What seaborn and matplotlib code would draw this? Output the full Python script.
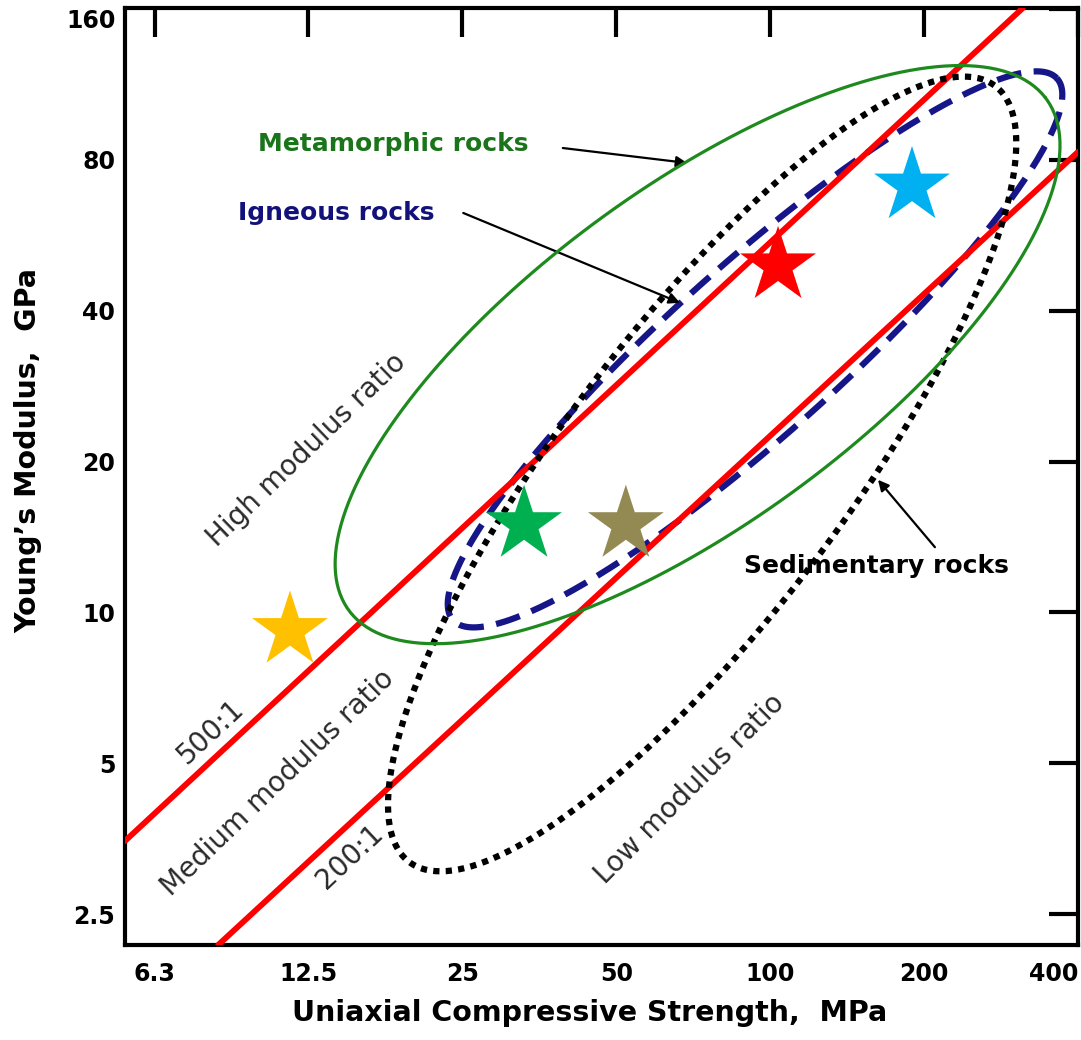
import numpy as np
import pandas as pd
import matplotlib
matplotlib.use("Agg")
import matplotlib.pyplot as plt
from matplotlib.ticker import NullLocator
import seaborn as sns

# ---------------- data ----------------
x_ticks = [6.25, 12.5, 25, 50, 100, 200, 400]
x_tick_labels = ["6.3", "12.5", "25", "50", "100", "200", "400"]
y_ticks = [2.5, 5, 10, 20, 40, 80, 160]
y_tick_labels = ["2.5", "5", "10", "20", "40", "80", "160"]

# modulus-ratio boundary lines (UCS in MPa, E in GPa)
line500_ucs = [5.47, 312.0]
line500_E = [3.50, 160.8]
line200_ucs = [8.32, 400.0]
line200_E = [2.17, 83.0]

# rock-group envelopes: centre (UCS, E), half-axes in octaves, tilt (deg)
meta_center = [72.1, 32.7]
meta_axes = [2.83, 1.10]
meta_angle = 37.0
igneous_center = [93.4, 33.5]
igneous_axes = [2.66, 0.555]
igneous_angle = 42.5
sed_center = [73.6, 18.9]
sed_axes = [3.20, 0.93]
sed_angle = 53.6

# sample stars
star_ucs = [11.5, 33.0, 52.2, 103.6, 189.4]
star_E = [9.21, 14.98, 14.98, 49.2, 71.0]
star_colors = ["#FFC000", "#00B050", "#938953", "#FF0000", "#00B0F0"]

# ---------------- figure ----------------
sns.set_theme(style="white")
plt.rcParams["font.family"] = ["DejaVu Sans"]

fig = plt.figure(figsize=(10.81, 10.40), dpi=100)
ax = fig.add_axes([125 / 1081, 95 / 1040, 953 / 1081, 937 / 1040])
ax.set_xscale("log", base=2)
ax.set_yscale("log", base=2)
ax.set_xlim(5.47, 400)
ax.set_ylim(2.17, 160.8)


def envelope(center, axes_, angle):
    t = np.linspace(0, 2 * np.pi, 400)
    th = np.deg2rad(angle)
    a, b = axes_
    du = a * np.cos(t) * np.cos(th) - b * np.sin(t) * np.sin(th)
    dv = a * np.cos(t) * np.sin(th) + b * np.sin(t) * np.cos(th)
    return pd.DataFrame({"ucs": center[0] * 2 ** du, "E": center[1] * 2 ** dv})


# igneous (navy dashed)
ig = envelope(igneous_center, igneous_axes, igneous_angle)
sns.lineplot(data=ig, x="ucs", y="E", sort=False, estimator=None, ax=ax,
             color="#161688", lw=4.5, zorder=2)
ax.lines[-1].set_dashes([4, 2])

# red ratio lines
sns.lineplot(x=line500_ucs, y=line500_E, ax=ax, color="#FF0000", lw=4.2, zorder=3)
sns.lineplot(x=line200_ucs, y=line200_E, ax=ax, color="#FF0000", lw=4.2, zorder=3)

# sedimentary (black dotted)
sd = envelope(sed_center, sed_axes, sed_angle)
sns.lineplot(data=sd, x="ucs", y="E", sort=False, estimator=None, ax=ax,
             color="black", lw=4.5, zorder=4)
ax.lines[-1].set_dashes([1, 1])
ax.lines[-1].set_dash_capstyle("butt")

# metamorphic (green solid)
mt = envelope(meta_center, meta_axes, meta_angle)
sns.lineplot(data=mt, x="ucs", y="E", sort=False, estimator=None, ax=ax,
             color="#1E8A1E", lw=2.3, zorder=5)

# stars
sns.scatterplot(x=star_ucs, y=star_E, hue=list(range(len(star_ucs))),
                palette=star_colors, marker="*", s=3300, linewidth=0,
                legend=False, ax=ax, zorder=6)

# ---------------- texts ----------------
ax.text(9.96, 86.1, "Metamorphic rocks", color="#1A741A", fontsize=18,
        fontweight="bold", ha="left", va="center")
ax.text(9.10, 62.7, "Igneous rocks", color="#12127A", fontsize=18,
        fontweight="bold", ha="left", va="center")
ax.text(88.9, 12.4, "Sedimentary rocks", color="black", fontsize=18,
        fontweight="bold", ha="left", va="center", zorder=7)

arrow_kw = dict(arrowstyle="-|>", color="black", lw=1.6, mutation_scale=16,
                shrinkA=0, shrinkB=0)
ax.annotate("", xy=(68.8, 78.9), xytext=(39.3, 84.5), arrowprops=arrow_kw)
ax.annotate("", xy=(66.6, 41.5), xytext=(25.1, 62.7), arrowprops=arrow_kw)
ax.annotate("", xy=(162.5, 18.4), xytext=(210.0, 13.5), arrowprops=arrow_kw)

gray = "#2a2a2a"
rot_kw = dict(ha="center", va="center", rotation_mode="anchor", color=gray,
              fontsize=20)
ax.text(12.4, 21.1, "High modulus ratio", rotation=44, **rot_kw)
ax.text(8.06, 5.79, "500:1", rotation=43, **rot_kw)
ax.text(10.9, 4.58, "Medium modulus ratio", rotation=44, **rot_kw)
ax.text(15.07, 3.25, "200:1", rotation=43, **rot_kw)
ax.text(69.7, 4.44, "Low modulus ratio", rotation=45, **rot_kw)

# ---------------- axes styling ----------------
ax.xaxis.set_minor_locator(NullLocator())
ax.yaxis.set_minor_locator(NullLocator())
ax.set_xticks(x_ticks, x_tick_labels)
ax.set_yticks(y_ticks, y_tick_labels)
ax.set_xlim(5.47, 400)
ax.set_ylim(2.17, 160.8)
ax.tick_params(axis="both", which="major", direction="in", length=21,
               width=3, color="black", top=True, right=True,
               labelsize=17, labelcolor="black")
ax.tick_params(axis="x", pad=12)
ax.tick_params(axis="y", pad=7)
for lbl in ax.get_xticklabels() + ax.get_yticklabels():
    lbl.set_fontweight("bold")
ax.get_xticklabels()[-1].set_ha("right")
ax.get_yticklabels()[-1].set_va("top")

for sp in ax.spines.values():
    sp.set_visible(True)
    sp.set_linewidth(3)
    sp.set_color("black")

ax.set_xlabel("Uniaxial Compressive Strength,  MPa", fontsize=20.5,
              fontweight="bold", color="black")
ax.set_ylabel("Young\u2019s Modulus,  GPa", fontsize=20.5,
              fontweight="bold", color="black")
ax.xaxis.set_label_coords(0.488, -0.058)
ax.yaxis.set_label_coords(-0.087, 0.528)
ax.grid(False)

fig.savefig("out.png", dpi=100)
